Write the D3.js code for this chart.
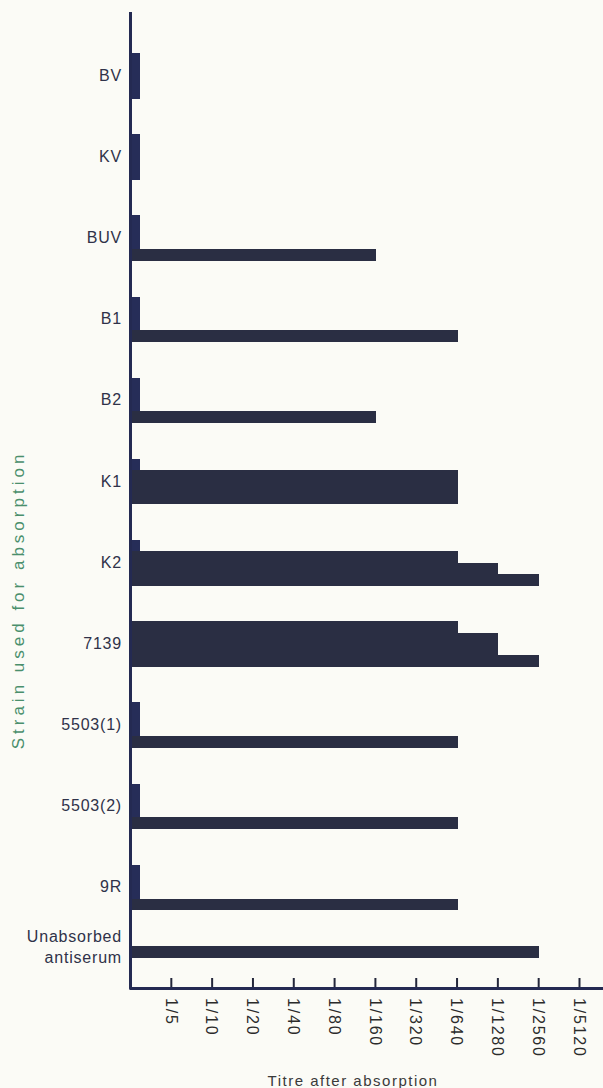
<!DOCTYPE html>
<html>
<head>
<meta charset="utf-8">
<script src="https://cdn.jsdelivr.net/npm/d3@7"></script>
<style>
  body { margin: 0; background: #fbfbf6; }
  svg { display: block; font-family: "Liberation Sans", Arial, sans-serif; }
</style>
</head>
<body>
<div id="chart"></div>
<script>
// strains used for absorption, top to bottom
var strains = ["BV", "KV", "BUV", "B1", "B2", "K1", "K2", "7139",
               "5503(1)", "5503(2)", "9R", "Unabsorbed antiserum"];

// titre denominators for the 4 rows of each strain
// 0 = below 1/5 (drawn as a short stub), null = nothing drawn
var rowTitres = [
    [0, 0, 0, 0],
    [0, 0, 0, 0],
    [0, 0, 0, 160],
    [0, 0, 0, 640],
    [0, 0, 0, 160],
    [0, 640, 640, 640],
    [0, 640, 1280, 2560],
    [640, 1280, 1280, 2560],
    [0, 0, 0, 640],
    [0, 0, 0, 640],
    [0, 0, 0, 640],
    [2560, null, null, null]
];

var tickTitres = [5, 10, 20, 40, 80, 160, 320, 640, 1280, 2560, 5120];
var tickLabels = ["1/5", "1/10", "1/20", "1/40", "1/80", "1/160", "1/320",
                  "1/640", "1/1280", "1/2560", "1/5120"];

var width = 603, height = 1088;
var axisX = 130, axisY = 988, stub = 10;

var svg = d3.select("#chart")
    .append("svg")
    .attr("width", width)
    .attr("height", height);

// each doubling of the titre is one equal step along the axis
var x = d3.scaleLog()
    .base(2)
    .domain([2.5, 5120])
    .range([axisX, 579]);

var y = d3.scaleBand()
    .domain(strains)
    .range([53, 991])
    .paddingInner(0.445)
    .paddingOuter(0);

var row = d3.scaleBand()
    .domain([0, 1, 2, 3])
    .range([0, y.bandwidth()]);

// flatten into one record per drawn row
var cells = [];
strains.forEach(function(s, i) {
    rowTitres[i].forEach(function(v, r) {
        if (v !== null) cells.push({ strain: s, row: r, value: v });
    });
});

svg.append("g")
    .attr("shape-rendering", "crispEdges")
    .selectAll("rect")
    .data(cells)
    .enter()
    .append("rect")
    .attr("x", axisX - 1)
    .attr("y", function(d) { return y(d.strain) + row(d.row); })
    .attr("width", function(d) {
        return (d.value === 0 ? axisX + stub : x(d.value) + 1) - axisX + 1;
    })
    .attr("height", row.bandwidth() + 0.5)
    .attr("fill", function(d) { return d.value === 0 ? "#262d58" : "#2a2e43"; });

// x axis: ticks pointing up, labels turned to read downwards
var xAxis = svg.append("g")
    .attr("transform", "translate(0," + axisY + ")")
    .call(d3.axisBottom(x)
        .tickValues(tickTitres)
        .tickSize(-10)
        .tickFormat(function(d, i) { return tickLabels[i]; }));

xAxis.select(".domain").remove();
xAxis.selectAll(".tick line")
    .attr("stroke", "#23263a")
    .attr("stroke-width", 2);
xAxis.selectAll(".tick text")
    .attr("transform", "rotate(90)")
    .attr("x", 10)
    .attr("y", 0)
    .attr("dy", "0.36em")
    .attr("text-anchor", "start")
    .attr("fill", "#2b2b2b")
    .style("font-size", "16px")
    .style("letter-spacing", "1.8px");

// strain labels
var yAxis = svg.append("g")
    .attr("transform", "translate(" + axisX + ",0)")
    .call(d3.axisLeft(y).tickSize(0).tickPadding(8));

yAxis.select(".domain").remove();
yAxis.selectAll(".tick text")
    .attr("fill", "#2f3249")
    .style("font-size", "16px")
    .style("letter-spacing", "0.8px");

// the unabsorbed control sits on its single bar and wraps onto two lines
var last = strains[strains.length - 1];
var lastTick = yAxis.selectAll(".tick").filter(function(d) { return d === last; });
lastTick.attr("transform", "translate(0," + (y(last) + row(0) + row.bandwidth() / 2 - 6) + ")");
var lastText = lastTick.select("text").text(null).attr("dy", null);
last.split(" ").forEach(function(word, i) {
    lastText.append("tspan")
        .attr("x", -8)
        .attr("dy", i === 0 ? "-0.2em" : "1.3em")
        .text(word);
});

// axis lines drawn as one stroke so the corner joins
svg.append("path")
    .attr("d", "M" + (axisX + 0.5) + ",12V" + (axisY + 0.5) + "H" + width)
    .attr("fill", "none")
    .attr("stroke", "#242a52")
    .attr("stroke-width", 3)
    .attr("stroke-linejoin", "round");

svg.append("text")
    .attr("transform", "translate(24,600) rotate(-90)")
    .attr("text-anchor", "middle")
    .attr("fill", "#4a8f6c")
    .style("font-size", "17px")
    .style("letter-spacing", "4px")
    .text("Strain used for absorption");

svg.append("text")
    .attr("x", 353)
    .attr("y", 1086)
    .attr("text-anchor", "middle")
    .attr("fill", "#3a3a3a")
    .style("font-size", "15px")
    .style("letter-spacing", "1.5px")
    .text("Titre after absorption");
</script>
</body>
</html>
